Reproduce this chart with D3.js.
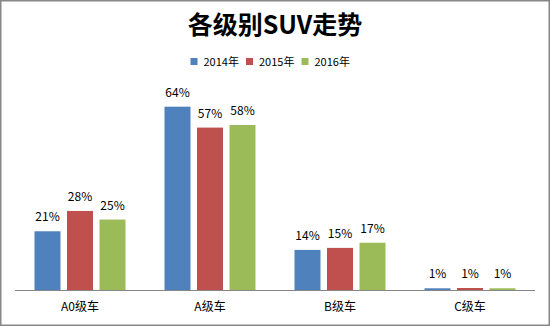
<!DOCTYPE html>
<html>
<head>
<meta charset="utf-8">
<script src="https://cdn.jsdelivr.net/npm/d3@7"></script>
<style>
  html, body { margin: 0; padding: 0; background: #fff; }
  svg { display: block; }
  text { font-family: "Noto Sans CJK SC", "Noto Sans", sans-serif; fill: #000; }
</style>
</head>
<body>
<svg id="chart" width="550" height="326"></svg>
<script>
const categories = ["A0级车", "A级车", "B级车", "C级车"];
const seriesNames = ["2014年", "2015年", "2016年"];
const values2014 = [0.205, 0.640, 0.140, 0.006];
const values2015 = [0.276, 0.567, 0.147, 0.007];
const values2016 = [0.246, 0.576, 0.165, 0.006];
const colors = ["#4F81BD", "#C0504D", "#9BBB59"];
const title = "各级别SUV走势";

const seriesValues = [values2014, values2015, values2016];
const svg = d3.select("#chart");
const W = 550, H = 326;

// border
svg.append("rect").attr("x", 0.75).attr("y", 0.75).attr("width", W - 1.5).attr("height", H - 1.5)
  .attr("fill", "#fff").attr("stroke", "#878787").attr("stroke-width", 1.5);

const x0 = d3.scaleBand().domain(categories).range([15, 535]).paddingInner(0.3).paddingOuter(0.15);
const x1 = d3.scaleBand().domain(seriesNames).range([0, x0.bandwidth()]).paddingInner(0.2);
const y = d3.scaleLinear().domain([0, 0.7]).range([290, 89.5]);

const rows = categories.map((c, i) => ({ cat: c, vals: seriesNames.map((s, j) => ({ s, j, v: seriesValues[j][i] })) }));

const g = svg.append("g");
const groups = g.selectAll("g.cat").data(rows).join("g")
  .attr("transform", d => `translate(${x0(d.cat)},0)`);

groups.selectAll("rect").data(d => d.vals).join("rect")
  .attr("x", d => x1(d.s))
  .attr("width", x1.bandwidth())
  .attr("y", d => y(d.v))
  .attr("height", d => y(0) - y(d.v))
  .attr("fill", d => colors[d.j]);

const fmt = d3.format(".0%");
groups.selectAll("text.lbl").data(d => d.vals).join("text")
  .attr("class", "lbl")
  .attr("x", d => x1(d.s) + x1.bandwidth() / 2)
  .attr("y", d => y(d.v) - 10)
  .attr("text-anchor", "middle")
  .attr("font-size", 12)
  .text(d => d.v < 0.01 ? "1%" : fmt(d.v));

// x axis
const xAxis = d3.axisBottom(x0).tickSize(0).tickPadding(0);
const ax = svg.append("g").attr("transform", `translate(0,${y(0)})`).call(xAxis);
ax.select(".domain").attr("stroke", "#868686").attr("stroke-width", 1.2).attr("d", "M15,0.5H535");
ax.selectAll(".tick text").attr("font-size", 12).attr("dy", null).attr("y", 21)
  .attr("font-family", "'Noto Sans CJK SC', sans-serif").attr("fill", "#000");

// title
svg.append("text").attr("x", 275).attr("y", 34).attr("text-anchor", "middle")
  .attr("font-size", 25).attr("font-weight", "bold").text(title);

// legend
const legX = d3.scaleBand().domain(seriesNames).range([190.5, 190.5 + 55.5 * 3]);
const leg = svg.append("g").selectAll("g").data(seriesNames).join("g")
  .attr("transform", d => `translate(${legX(d)},0)`);
leg.append("rect").attr("x", 0).attr("y", 58).attr("width", 7).attr("height", 7)
  .attr("fill", (d, i) => colors[i]);
leg.append("text").attr("x", 13).attr("y", 65.5).attr("font-size", 11).text(d => d);
</script>
</body>
</html>
